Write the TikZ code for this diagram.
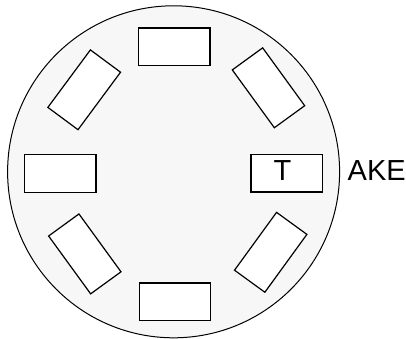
\documentclass[tikz,border=0pt]{standalone}
\usepackage{fontspec}
\setmainfont{Liberation Sans}
\begin{document}
\begin{tikzpicture}[x=1pt,y=-1pt,
  ring/.style={circle,draw=black,line width=1pt,fill={rgb,255:red,247;green,247;blue,247},minimum size=332pt,inner sep=0pt},
  slot/.style={rectangle,draw=black,line width=1.2pt,fill=white,minimum width=71.5pt,minimum height=37.5pt,inner sep=0pt},
  lbl/.style={font=\fontsize{29}{33}\selectfont,inner sep=0pt}]
\useasboundingbox (0,0) rectangle (406,339);
\node[ring] (c) at (173.6,171.8) {};
\node[slot] (r1) at (174.2,46.7) {};
\node[slot,rotate=-54] (r2) at (268.5,87.8) {};
\node[slot] (r3) at (286.8,173.2) {};
\node[slot,rotate=54] (r4) at (270.7,252.3) {};
\node[slot] (r5) at (175,301.7) {};
\node[slot,rotate=-54] (r6) at (84.8,253.9) {};
\node[slot] (r7) at (60.3,173.5) {};
\node[slot,rotate=53.5] (r8) at (84.2,89.8) {};
\node[lbl,anchor=base] (t) at (282.4,180) {T};
\node[lbl,anchor=base west] (ake) at (347.5,180) {AKE};
\end{tikzpicture}
\end{document}
